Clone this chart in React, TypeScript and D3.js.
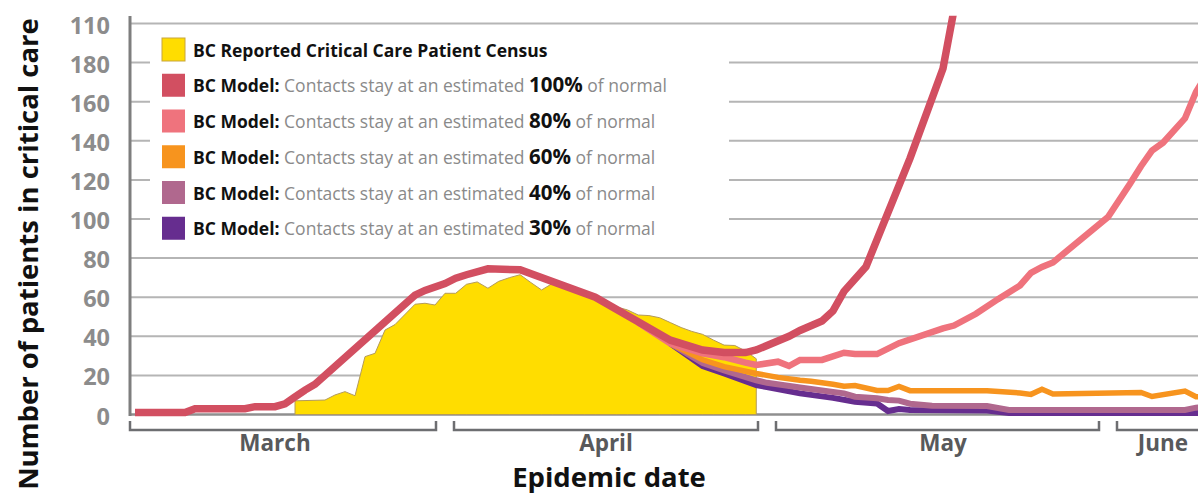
import React from 'react'
import * as d3 from 'd3'

// y axis: the top tick is labelled "110" in the source chart
const yTickValues = [0, 20, 40, 60, 80, 100, 120, 140, 160, 180, 200]
const yTickLabels = ['0', '20', '40', '60', '80', '100', '120', '140', '160', '180', '110']

// days counted from March 1
const monthNames = ['March', 'April', 'May', 'June']
const monthStartDays = [0, 31, 61, 92]
const monthEndDays = [31, 61, 92, 122]
const monthLabelDays = [14, 46, 77, 97]

const censusDays = [16, 19, 20, 21, 22, 23, 24, 25, 26, 28, 29, 30, 31, 32, 33, 34, 35, 36, 37, 38, 39, 40, 41, 42, 43, 44, 45, 46, 47, 48, 49, 50, 51, 52, 53, 54, 55, 56, 57, 58, 59, 60]
const censusValues = [7, 7.4, 10, 11.7, 9.6, 29.6, 31.3, 43.2, 46, 56.4, 56.9, 56, 62, 62, 66.6, 67.8, 64.6, 68.1, 70, 71.5, 67.5, 63.7, 67, 65.5, 63, 61.5, 59.5, 57, 55, 53.5, 50.9, 50.6, 49.5, 47, 44.5, 42.5, 41, 38.1, 35.5, 35.3, 32.5, 28.5]

const model100: [number, number][] = [[0, 1], [5, 1], [6, 3], [11, 3], [12, 4], [14, 4], [15, 5.5], [16, 9], [17, 12.5], [18, 15.5], [28, 61], [29, 63.5], [31, 67], [32, 69.7], [33, 71.5], [35, 74.5], [38, 74], [45, 60], [52, 38], [55, 33], [57, 31.7], [59, 31.7], [60, 33], [63, 40], [64, 43], [66, 47.8], [67, 53], [68, 63], [70, 75.6], [74, 131], [77, 177], [78, 207]]
const model80: [number, number][] = [[49, 47], [52, 36.3], [55, 31.3], [57, 29.3], [59, 26.5], [60, 25.3], [62, 27], [63, 24.8], [64, 27.9], [66, 27.9], [68, 31.6], [69, 30.9], [71, 30.9], [73, 36.5], [77, 44], [78, 45.5], [80, 51.5], [82, 59], [84, 66], [85, 72.5], [86, 75.5], [87, 77.8], [92, 101], [94, 118], [95, 127], [96, 135], [97, 139], [99, 151.5], [100, 165], [101, 174]]
const model60: [number, number][] = [[52, 36.3], [55, 28], [57, 24.5], [60, 21], [62, 19], [64, 17.5], [65, 17], [67, 15.5], [68, 14.5], [69, 14.8], [71, 12.3], [72, 12.3], [73, 14.4], [74, 12.2], [81, 12.2], [84, 11], [85, 10.3], [86, 12.9], [87, 10.5], [95, 11.3], [96, 9.2], [99, 12], [100, 9.1], [101, 9.1]]
const model40: [number, number][] = [[52, 36.3], [55, 26.3], [57, 22.5], [60, 17.5], [61, 16.2], [64, 13.8], [67, 11.5], [68, 10.8], [69, 9.1], [71, 8.3], [72, 7.4], [73, 7.1], [74, 5.5], [76, 4.5], [81, 4.3], [83, 2.3], [99, 2.3], [100, 3.5], [101, 3.8]]
const model30: [number, number][] = [[52, 36.3], [55, 24.8], [57, 21], [60, 15.1], [61, 14], [64, 10.8], [67, 8.5], [69, 6.5], [71, 5.6], [72, 1.8], [73, 2.8], [74, 2.3], [81, 2], [83, 0.8], [101, 0.8]]

const censusLabel = 'BC Reported Critical Care Patient Census'
const scenarioPercents = ['100%', '80%', '60%', '40%', '30%']

const W = 1198
const H = 494
const FONT = '"Open Sans", "Noto Sans", sans-serif'
const YELLOW = '#ffdd00'
const scenarioColors = ['#d24f61', '#ef737d', '#f7941e', '#b0688e', '#662d8f']
const scenarioWidths = [7.5, 6.5, 5.5, 6, 6]

const App = () => {
  const plotLeft = 130
  const x = d3.scaleLinear().domain(monthStartDays).range([135, 445, 767, 1108])
  const y = d3.scaleLinear().domain([0, 200]).range([414.5, 23.5])

  const line = d3.line<[number, number]>()
    .x(d => x(d[0]))
    .y(d => y(d[1]))

  const area = d3.area<number>()
    .x((d, i) => x(censusDays[i]))
    .y0(y(0))
    .y1(d => y(d))

  const series = [model100, model80, model60, model40, model30]
  const drawOrder = [4, 3, 2, 1, 0]

  const legendX = 162
  const legendTop = 38
  const rowPitch = 35.75

  return (
    <svg width={W} height={H} style={{ position: 'absolute', left: 0, top: 0, background: '#fff' }}
      fontFamily={FONT}>
      <defs>
        <clipPath id="plot">
          <rect x={plotLeft} y={y(204)} width={W - plotLeft} height={y(0) - y(204) + 6} />
        </clipPath>
      </defs>

      {/* gridlines */}
      {yTickValues.map(v => (
        <line key={'g' + v} x1={plotLeft} x2={W} y1={y(v)} y2={y(v)}
          stroke={v === 0 ? '#8f8f8f' : '#b5b5b5'} strokeWidth={v === 0 ? 2.5 : 2} />
      ))}

      <g clipPath="url(#plot)">
        <path d={area(censusValues) || ''} fill={YELLOW} stroke="#b39a5c" strokeWidth={1} />
        {drawOrder.map(i => (
          <path key={'s' + i} d={line(series[i]) || ''} fill="none"
            stroke={scenarioColors[i]} strokeWidth={scenarioWidths[i]} strokeLinejoin="miter" />
        ))}
      </g>

      {/* y axis */}
      <line x1={plotLeft} x2={plotLeft} y1={16} y2={y(0) + 1.5} stroke="#7e7e7e" strokeWidth={3} />
      {yTickValues.map((v, i) => (
        <text key={'t' + v} x={110} y={y(v) + 10} textAnchor="end" fontSize={23.5}
          fontWeight={700} fill="#8c8c8c">{yTickLabels[i]}</text>
      ))}
      <text transform={`translate(37.5, 254) rotate(-90)`} textAnchor="middle" fontSize={27.5}
        fontWeight={700} fill="#111">Number of patients in critical care</text>

      {/* month brackets */}
      {monthNames.map((m, i) => {
        const x1 = i === 0 ? plotLeft : x(monthStartDays[i]) + 9
        const x2 = x(monthEndDays[i]) - 9
        return (
          <g key={m}>
            <path d={`M${x1},421V430H${x2}V421`} fill="none" stroke="#6d6e71" strokeWidth={2.5} />
            <text x={x(monthLabelDays[i])} y={451} textAnchor="middle" fontSize={22.5}
              fontWeight={700} fill="#58595b">{m}</text>
          </g>
        )
      })}
      <text x={609} y={486.5} textAnchor="middle" fontSize={27.5} fontWeight={700} fill="#111">Epidemic date</text>

      {/* legend */}
      <rect x={150} y={34} width={579} height={214} fill="#fff" />
      <rect x={legendX} y={legendTop} width={23} height={23} fill={YELLOW} stroke="#c8a53c" strokeWidth={1} />
      <text x={193} y={legendTop + 18.7} fontSize={17.5} fontWeight={700} fill="#111">{censusLabel}</text>
      {scenarioPercents.map((p, i) => {
        const top = legendTop + rowPitch * (i + 1)
        return (
          <g key={p}>
            <rect x={legendX} y={top} width={23} height={23} fill={scenarioColors[i]} />
            <text x={193} y={top + 18.7} fontSize={17.5}>
              <tspan fontWeight={700} fill="#111">BC Model:</tspan>
              <tspan fill="#8a8a8a"> Contacts stay at an estimated </tspan>
              <tspan fontWeight={700} fill="#111" fontSize={20.5}>{p}</tspan>
              <tspan fill="#8a8a8a"> of normal</tspan>
            </text>
          </g>
        )
      })}
    </svg>
  )
}

export default App
